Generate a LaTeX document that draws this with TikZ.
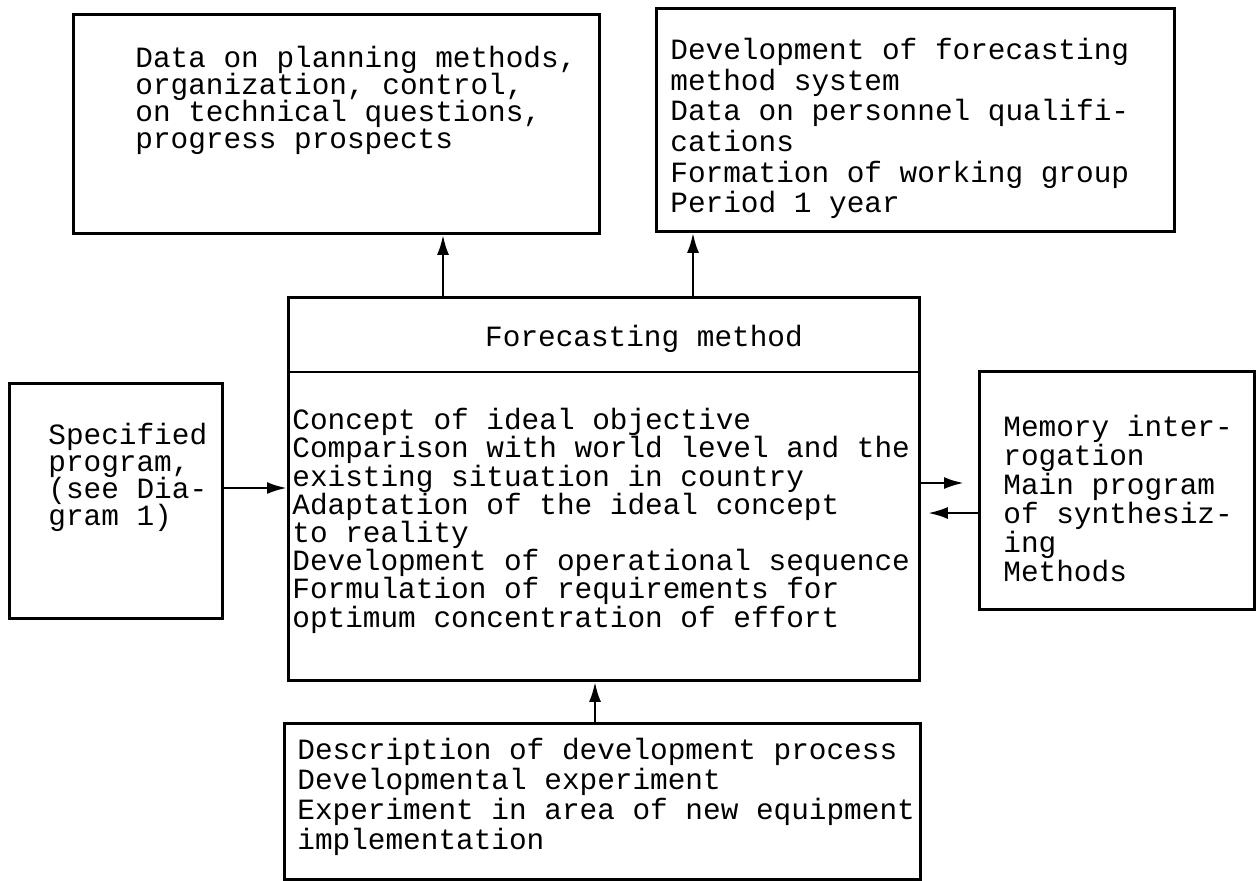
\documentclass[tikz,border=0pt]{standalone}
\usepackage{fontspec}
\setmonofont{Liberation Mono}
\usetikzlibrary{arrows.meta}
\setlength{\lineskiplimit}{-10pt}

\begin{document}
\begin{tikzpicture}[x=0.5pt,y=-0.5pt]

\tikzstyle{box}=[draw=black, line width=1.4pt, anchor=north west, inner sep=0pt]
\tikzstyle{arr}=[line width=1.4pt, -{Latex[length=10pt,width=6pt]}]
\tikzset{txt/.style={align=left, inner sep=0pt, anchor=north west,
  font=\ttfamily\fontsize{14.7}{#1}\selectfont}}

\useasboundingbox (0,0) rectangle (1256,880);

% boxes
\node[box, minimum width=263pt, minimum height=109.5pt] (data) at (72,13) {};
\node[box, minimum width=259pt, minimum height=111.5pt] (devel) at (655,7) {};
\node[box, minimum width=315.5pt, minimum height=191.5pt] (forecast) at (287,296) {};
\node[box, minimum width=106.5pt, minimum height=117.5pt] (spec) at (8,382) {};
\node[box, minimum width=137.5pt, minimum height=119pt] (memory) at (978,370) {};
\node[box, minimum width=318pt, minimum height=78pt] (descr) at (283,722) {};

% texts
\node[txt=13.5pt] (datatxt) at (135,46) {Data on planning methods,\\organization, control,\\on technical questions,\\progress prospects};
\node[txt=15.3pt] (develtxt) at (670,38) {Development of forecasting\\method system\\Data on personnel qualifi-\\cations\\Formation of working group\\Period 1 year};
\node[txt=14.1pt, anchor=base] (title) at (644,346) {Forecasting method};
\node[txt=14.1pt] (forecasttxt) at (292,408) {Concept of ideal objective\\Comparison with world level and the\\existing situation in country\\Adaptation of the ideal concept\\to reality\\Development of operational sequence\\Formulation of requirements for\\optimum concentration of effort};
\node[txt=13.5pt] (spectxt) at (48,423) {Specified\\program,\\(see Dia-\\gram 1)};
\node[txt=14.5pt] (memorytxt) at (1003,415) {Memory inter-\\rogation\\Main program\\of synthesiz-\\ing\\Methods};
\node[txt=15pt] (descrtxt) at (297,738) {Description of development process\\Developmental experiment\\Experiment in area of new equipment\\implementation};

% connectors
\coordinate (c1) at (443,0);
\coordinate (c2) at (693,0);
\coordinate (c3) at (595,0);
\coordinate (r1) at (0,488);
\coordinate (r2) at (0,483);
\coordinate (r3) at (0,513);
\coordinate (div) at (0,372);
\draw[line width=1.4pt] (forecast.west |- div) -- (forecast.east |- div);
\draw[arr] (forecast.north -| c1) -- (data.south -| c1);
\draw[arr] (forecast.north -| c2) -- (devel.south -| c2);
\draw[arr] (spec.east |- r1) -- (forecast.west |- r1);
\draw[arr, shorten >=7pt] (forecast.east |- r2) -- (memory.west |- r2);
\draw[arr, shorten >=3.5pt] (memory.west |- r3) -- (forecast.east |- r3);
\draw[arr] (descr.north -| c3) -- (forecast.south -| c3);
\end{tikzpicture}
\end{document}
